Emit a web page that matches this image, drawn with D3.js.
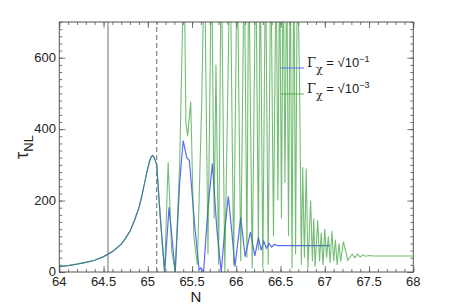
<!DOCTYPE html>
<html>
<head>
<meta charset="utf-8">
<script src="https://cdn.jsdelivr.net/npm/d3@7"></script>
<style>
  body { margin: 0; background: #fff; }
  text { font-family: "Liberation Sans", Arial, sans-serif; fill: #222; }
</style>
</head>
<body>
<div id="chart"></div>
<script>
// shared part of both runs, up to the dashed line
var commonN   = [64.0, 64.1, 64.2, 64.3, 64.4, 64.5, 64.6, 64.7, 64.75, 64.8, 64.85, 64.9, 64.93, 64.96, 64.99, 65.02, 65.04, 65.055, 65.07, 65.085, 65.1];
var commonTau = [15, 18, 22, 27, 33, 43, 57, 78, 95, 115, 145, 180, 210, 245, 280, 310, 323, 326, 322, 312, 300];

// Gamma_chi = sqrt(1e-1)
var blueN   = [65.1, 65.14, 65.19, 65.24, 65.31, 65.36, 65.4, 65.44, 65.47, 65.53, 65.58, 65.6, 65.63, 65.68, 65.73, 65.78, 65.83, 65.87, 65.91, 65.95, 65.985, 66.05, 66.1, 66.16, 66.21, 66.25, 66.28, 66.31, 66.34, 66.37, 66.4, 66.43, 66.47, 67.06];
var blueTau = [300, 160, 0, 181, 0, 250, 368, 320, 312, 130, 5, 12, 0, 180, 304, 120, 0, 120, 212, 110, 15, 153, 43, 112, 45, 97, 61, 86, 67, 80, 70, 77, 74, 74];

// Gamma_chi = sqrt(1e-3)
var greenN   = [65.1, 65.15, 65.19, 65.23, 65.27, 65.31, 65.36, 65.41, 65.43, 65.45, 65.485, 65.52, 65.56, 65.61, 65.64, 65.68, 65.72, 65.75, 65.77, 65.8, 65.83, 65.87, 65.93, 65.97, 66.01, 66.05, 66.09, 66.12, 66.14, 66.18, 66.22, 66.25, 66.27, 66.3, 66.33, 66.36, 66.39, 66.42, 66.45, 66.47, 66.49, 66.51, 66.53, 66.55, 66.57, 66.59, 66.61, 66.63, 66.65, 66.67, 66.69, 66.715, 66.735, 66.75, 66.77, 66.79, 66.81, 66.84, 66.86, 66.875, 66.89, 66.92, 66.94, 66.96, 66.98, 67.0, 67.02, 67.04, 67.06, 67.08, 67.1, 67.12, 67.14, 67.16, 67.18, 67.21, 67.26, 67.31, 67.34, 67.37, 67.4, 67.43, 67.46, 67.5, 67.55, 68.0];
var greenTau = [300, 120, 0, 307, 60, 0, 300, 900, 420, 380, 477, 100, 20, 480, 900, 50, 900, 150, 580, 20, 900, 0, 900, 20, 900, 30, 900, 40, 900, 10, 900, 60, 900, 10, 900, 20, 900, 100, 900, 200, 900, 150, 900, 250, 900, 100, 900, 10, 900, 50, 900, 527, 20, 293, 40, 290, 10, 200, 30, 150, 15, 145, 30, 110, 20, 120, 40, 100, 25, 115, 30, 90, 20, 80, 30, 85, 33, 50, 40, 50, 42, 48, 44, 46, 45, 45];

var xTicks = [64, 64.5, 65, 65.5, 66, 66.5, 67, 67.5, 68];
var yTicks = [0, 200, 400, 600];
var markerLines = [64.55];
var dashedLines = [65.1];

var W = 457, H = 307;
var svg = d3.select("#chart").append("svg")
    .attr("width", W).attr("height", H);

var x = d3.scaleLinear().domain([64, 68]).range([59.3, 413.3]);
var y = d3.scaleLinear().domain([0, 700]).range([272, 22]);

svg.append("defs").append("clipPath").attr("id", "plotclip")
  .append("rect")
    .attr("x", x(64)).attr("y", y(700))
    .attr("width", x(68) - x(64)).attr("height", y(0) - y(700));

var frameColor = "#555";

// ticks on all four sides, pointing inwards
var minorX = d3.range(64, 68.001, 0.1);
var minorY = d3.range(0, 701, 20);
svg.append("g").attr("transform", "translate(0," + y(0) + ")")
  .call(d3.axisBottom(x).tickValues(minorX).tickSize(-3).tickFormat(""));
svg.append("g").attr("transform", "translate(0," + y(700) + ")")
  .call(d3.axisTop(x).tickValues(minorX).tickSize(-3).tickFormat(""));
svg.append("g").attr("transform", "translate(" + x(64) + ",0)")
  .call(d3.axisLeft(y).tickValues(minorY).tickSize(-3).tickFormat(""));
svg.append("g").attr("transform", "translate(" + x(68) + ",0)")
  .call(d3.axisRight(y).tickValues(minorY).tickSize(-3).tickFormat(""));

// major ticks a bit longer
svg.append("g").attr("transform", "translate(0," + y(0) + ")")
  .call(d3.axisBottom(x).tickValues(xTicks).tickSize(-6).tickFormat(""));
svg.append("g").attr("transform", "translate(0," + y(700) + ")")
  .call(d3.axisTop(x).tickValues(xTicks).tickSize(-6).tickFormat(""));
svg.append("g").attr("transform", "translate(" + x(64) + ",0)")
  .call(d3.axisLeft(y).tickValues(yTicks).tickSize(-6).tickFormat(""));
svg.append("g").attr("transform", "translate(" + x(68) + ",0)")
  .call(d3.axisRight(y).tickValues(yTicks).tickSize(-6).tickFormat(""));

svg.selectAll(".domain").remove();
svg.selectAll(".tick line").attr("stroke", frameColor).attr("stroke-width", 0.8);

// reference lines
svg.selectAll(".vsolid").data(markerLines).enter().append("line")
    .attr("x1", function (d) {return x(d);}).attr("x2", function (d) {return x(d);})
    .attr("y1", y(0)).attr("y2", y(700))
    .attr("stroke", "#999").attr("stroke-width", 1.4);
svg.selectAll(".vdash").data(dashedLines).enter().append("line")
    .attr("x1", function (d) {return x(d);}).attr("x2", function (d) {return x(d);})
    .attr("y1", y(0)).attr("y2", y(700))
    .attr("stroke", "#888").attr("stroke-width", 1.2)
    .attr("stroke-dasharray", "5,3");

var plot = svg.append("g").attr("clip-path", "url(#plotclip)");

var blueData = d3.zip(commonN, commonTau).concat(d3.zip(blueN, blueTau).slice(1));
var greenData = d3.zip(commonN, commonTau).concat(d3.zip(greenN, greenTau).slice(1));

var line = d3.line()
    .x(function (d) {return x(d[0]);})
    .y(function (d) {return y(d[1]);});

plot.append("path").datum(blueData)
    .attr("d", line)
    .attr("fill", "none")
    .attr("stroke", "#5a6aff")
    .attr("stroke-width", 1.2);
plot.append("path").datum(greenData)
    .attr("d", line)
    .attr("fill", "none")
    .attr("stroke", "#2a9a2a")
    .attr("stroke-opacity", 0.65)
    .attr("stroke-width", 1.1);

// frame
svg.append("rect")
    .attr("x", x(64)).attr("y", y(700))
    .attr("width", x(68) - x(64)).attr("height", y(0) - y(700))
    .attr("fill", "none").attr("stroke", frameColor).attr("stroke-width", 1);

// tick labels
svg.selectAll(".xl").data(xTicks).enter().append("text")
    .attr("x", function (d) {return x(d);})
    .attr("y", 286)
    .attr("text-anchor", "middle")
    .attr("font-size", 13)
    .text(function (d) {return d;});
svg.selectAll(".yl").data(yTicks).enter().append("text")
    .attr("x", 56)
    .attr("y", function (d) {return y(d) + 4;})
    .attr("text-anchor", "end")
    .attr("font-size", 13)
    .text(function (d) {return d;});

// axis titles
svg.append("text")
    .attr("x", 196).attr("y", 302)
    .attr("text-anchor", "middle")
    .attr("font-size", 15)
    .text("N");
var yt = svg.append("text")
    .attr("transform", "translate(28,147) rotate(-90)")
    .attr("text-anchor", "middle")
    .attr("font-size", 18);
yt.append("tspan").text("τ");
yt.append("tspan").attr("dy", 5).attr("font-size", 13).text("NL");

// legend
var legend = [
  {color: "#5a6aff", exp: "−1", opacity: 1},
  {color: "#2a9a2a", exp: "−3", opacity: 0.7}
];
var lg = svg.selectAll(".leg").data(legend).enter().append("g")
    .attr("transform", function (d, i) {return "translate(281," + (68 + i * 26) + ")";});
lg.append("line")
    .attr("x1", 0).attr("x2", 23).attr("y1", 0).attr("y2", 0)
    .attr("stroke", function (d) {return d.color;})
    .attr("stroke-opacity", function (d) {return d.opacity;})
    .attr("stroke-width", 1);
var lt = lg.append("text").attr("x", 26).attr("y", -1).attr("font-size", 13);
lt.append("tspan").attr("font-family", "DejaVu Serif, serif").text("Γ");
lt.append("tspan").attr("dy", 6).attr("font-size", 11).attr("font-family", "DejaVu Serif, serif").text("χ");
lt.append("tspan").attr("dy", -6).text(" = √10");
lt.append("tspan").attr("dy", -5).attr("font-size", 9).text(function (d) {return d.exp;});
</script>
</body>
</html>
